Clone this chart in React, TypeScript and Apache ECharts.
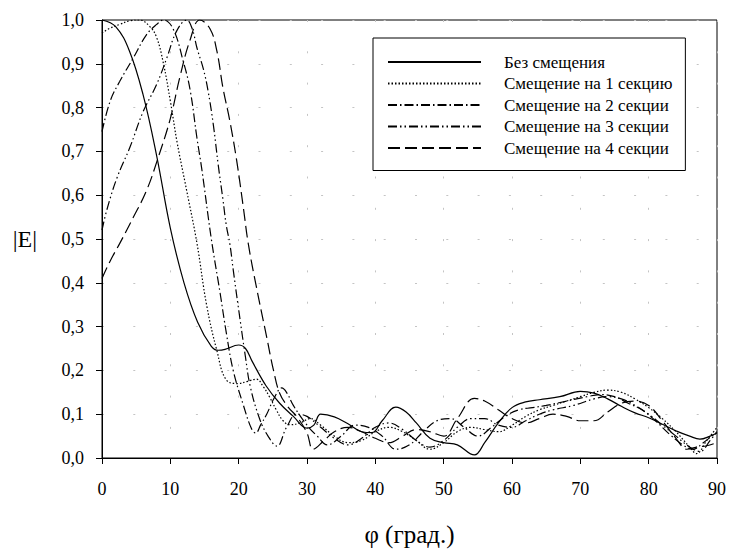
import React, { useEffect, useRef, useState } from "react";
import * as echarts from "echarts";

const seriesNames = [
  "Без смещения",
  "Смещение на 1 секцию",
  "Смещение на 2 секции",
  "Смещение на 3 секции",
  "Смещение на 4 секции",
];

const xTicks = [0, 10, 20, 30, 40, 50, 60, 70, 80, 90];

// Без смещения (solid)
const shift0: [number, number][] = [
  [0, 1.0], [2, 0.985], [4, 0.93], [6, 0.83], [8, 0.69], [10, 0.525], [12, 0.4],
  [14, 0.31], [16, 0.255], [17, 0.246], [18, 0.248], [20, 0.258], [21, 0.25],
  [22, 0.22], [24, 0.165], [26, 0.125], [28, 0.095], [30, 0.068], [31, 0.075],
  [32, 0.1], [34, 0.094], [36, 0.078], [38, 0.06], [39.5, 0.058], [41, 0.085],
  [43, 0.116], [44.5, 0.105], [46, 0.08], [48, 0.045], [50, 0.035], [52, 0.03],
  [54.5, 0.007], [56, 0.035], [58, 0.08], [60, 0.115], [62, 0.128], [64, 0.133],
  [67, 0.14], [70, 0.152], [72, 0.148], [74, 0.135], [76, 0.118], [78, 0.103],
  [80, 0.092], [82, 0.077], [84, 0.062], [86, 0.05], [87.5, 0.043], [89, 0.05], [90, 0.057],
];

// Смещение на 1 секцию (dense dots)
const shift1: [number, number][] = [
  [0, 0.97], [1, 0.98], [2.6, 0.99], [4, 0.998], [5.5, 1.0], [7, 0.985], [8, 0.96],
  [9, 0.9], [10, 0.815], [11, 0.72], [12.4, 0.61], [13.9, 0.49], [15.3, 0.35],
  [16.8, 0.246], [18.2, 0.178], [19.9, 0.17], [21.3, 0.175], [22.6, 0.18],
  [23.6, 0.163], [24.5, 0.14], [25.5, 0.11], [26.5, 0.085], [27.5, 0.076],
  [29, 0.08], [30.5, 0.09], [32, 0.075], [34, 0.05], [36, 0.035], [38, 0.04],
  [40, 0.06], [42, 0.07], [44, 0.06], [46, 0.04], [48, 0.02], [50, 0.035],
  [52, 0.06], [54, 0.07], [56, 0.065], [58, 0.06], [60, 0.075], [62, 0.095],
  [64, 0.11], [66, 0.12], [68, 0.13], [70, 0.14], [72, 0.15], [74, 0.155],
  [76, 0.15], [78, 0.135], [80, 0.115], [82, 0.09], [84, 0.06], [86, 0.025],
  [87, 0.01], [88.5, 0.04], [90, 0.07],
];

// Смещение на 2 секции (dash-dot)
const shift2: [number, number][] = [
  [0, 0.745], [1.2, 0.815], [2.6, 0.86], [4.6, 0.914], [6.5, 0.966], [8, 0.99],
  [9, 1.0], [10.4, 0.98], [11.9, 0.905], [12.9, 0.84], [13.9, 0.73], [14.6, 0.66],
  [16, 0.5], [17.3, 0.375], [18.2, 0.285], [19.2, 0.2], [20.7, 0.12], [21.9, 0.066],
  [22.5, 0.057], [23.2, 0.075], [24.1, 0.1], [25.3, 0.14], [26.3, 0.16], [27, 0.15],
  [28, 0.12], [30, 0.075], [31.5, 0.05], [33, 0.03], [35, 0.05], [37, 0.075],
  [39, 0.07], [41, 0.05], [43, 0.02], [45, 0.03], [47, 0.06], [49, 0.085],
  [51, 0.09], [53, 0.07], [55, 0.05], [57, 0.07], [59, 0.095], [61, 0.11],
  [63, 0.115], [65, 0.12], [68, 0.13], [71, 0.14], [73, 0.145], [75, 0.14],
  [77, 0.125], [79, 0.11], [81, 0.085], [83, 0.055], [85, 0.03], [86.5, 0.02],
  [88, 0.035], [90, 0.06],
];

// Смещение на 3 секции (dash-dot-dot)
const shift3: [number, number][] = [
  [0, 0.52], [0.7, 0.566], [2.2, 0.64], [4.1, 0.71], [6, 0.79], [8, 0.853],
  [9.5, 0.914], [10.9, 0.974], [12.4, 1.0], [13.2, 0.98], [13.9, 0.936], [14.8, 0.89],
  [15.5, 0.84], [16.3, 0.76], [17, 0.67], [17.7, 0.59], [18.2, 0.53], [18.7, 0.49],
  [19.2, 0.43], [19.9, 0.35], [21, 0.23], [21.7, 0.163], [23.1, 0.088], [24.3, 0.05],
  [25.6, 0.027], [27, 0.07], [28.5, 0.1], [30, 0.095], [32, 0.07], [34, 0.045],
  [36, 0.03], [38, 0.045], [40, 0.07], [42, 0.08], [44, 0.065], [46, 0.04],
  [48, 0.025], [50, 0.04], [52, 0.07], [54, 0.09], [56, 0.09], [58, 0.075],
  [60, 0.07], [62, 0.085], [64, 0.1], [66, 0.11], [69, 0.12], [72, 0.135],
  [74, 0.14], [76, 0.135], [78, 0.12], [80, 0.1], [82, 0.075], [84, 0.05],
  [86, 0.025], [87.5, 0.015], [89, 0.04], [90, 0.06],
];

// Смещение на 4 секции (long dash)
const shift4: [number, number][] = [
  [0, 0.41], [1.2, 0.45], [2.6, 0.49], [4.6, 0.55], [6.5, 0.61], [8.2, 0.685],
  [10, 0.775], [11.4, 0.87], [12.9, 0.955], [14.3, 1.0], [15.8, 0.98], [16.8, 0.93],
  [17.7, 0.845], [18.7, 0.77], [19.7, 0.68], [20.7, 0.57], [21.4, 0.49], [22.6, 0.39],
  [24.1, 0.276], [25.1, 0.2], [26, 0.148], [27.3, 0.115], [28.5, 0.095], [30, 0.057],
  [30.9, 0.02], [32.5, 0.04], [34, 0.06], [36, 0.07], [38, 0.06], [40, 0.045],
  [42, 0.035], [44, 0.05], [46, 0.065], [48, 0.06], [50, 0.05], [52, 0.09],
  [54.5, 0.136], [56, 0.13], [58, 0.11], [60, 0.09], [62, 0.08], [64, 0.09],
  [66, 0.1], [68, 0.095], [70, 0.085], [72, 0.085], [74, 0.105], [76, 0.125],
  [78, 0.13], [80, 0.12], [82, 0.085], [84, 0.045], [85.6, 0.02], [87, 0.025],
  [88.5, 0.028], [90, 0.035],
];

const seriesData = [shift0, shift1, shift2, shift3, shift4];
const dashes: (number[] | "solid")[] = [
  "solid",
  [1.5, 2],
  [9, 3, 1.5, 3],
  [9, 3, 1.5, 3, 1.5, 3],
  [12, 5],
];

const FONT = "Liberation Serif";

function buildOption() {
  const gridLine = { show: true, lineStyle: { color: "#c4c4c4", width: 1, type: [2, 29.3] as any } };
  return {
    animation: false,
    grid: {
      left: 102, right: 12, top: 20, bottom: 90,
      show: true, borderColor: "#000", borderWidth: 1,
    },
    legend: {
      orient: "vertical",
      left: 373,
      top: 38,
      padding: [15.5, 13, 14, 14],
      itemWidth: 93,
      itemHeight: 14,
      itemGap: 4.5,
      borderColor: "#000",
      borderWidth: 1,
      backgroundColor: "#fff",
      data: seriesNames,
      itemStyle: { opacity: 0 },
      textStyle: { fontFamily: FONT, fontSize: 17, color: "#000", padding: [0, 0, 0, 18] },
    },
    xAxis: {
      type: "value",
      min: 0,
      max: 90,
      interval: 10,
      name: "φ (град.)",
      nameLocation: "middle",
      nameGap: 64,
      nameTextStyle: { fontFamily: FONT, fontSize: 25, color: "#000" },
      axisLine: { show: true, onZero: false, lineStyle: { color: "#000", width: 1 } },
      axisTick: { show: true, length: 6, lineStyle: { color: "#000" } },
      axisLabel: {
        fontFamily: FONT, fontSize: 18, color: "#000", margin: 22,
        formatter: (v: number) => (xTicks.includes(v) ? String(v) : ""),
      },
      splitLine: gridLine,
    },
    yAxis: {
      type: "value",
      min: 0,
      max: 1,
      interval: 0.1,
      name: "|E|",
      nameLocation: "middle",
      nameRotate: 0,
      nameGap: 65,
      nameTextStyle: { fontFamily: FONT, fontSize: 24, color: "#000" },
      axisLine: { show: true, lineStyle: { color: "#000", width: 1 } },
      axisTick: { show: true, length: 6, lineStyle: { color: "#000" } },
      axisLabel: {
        fontFamily: FONT, fontSize: 18, color: "#000", margin: 18,
        formatter: (v: number) => v.toFixed(1).replace(".", ","),
      },
      splitLine: gridLine,
    },
    series: seriesData.map((d, i) => ({
      name: seriesNames[i],
      type: "line",
      data: d,
      smooth: 0.4,
      symbol: "none",
      clip: true,
      lineStyle: { color: "#000", width: 1.2, type: dashes[i] },
      itemStyle: { color: "#000", opacity: 0 },
    })),
  };
}

export default function App() {
  const ref = useRef<HTMLDivElement>(null);
  const [tick, setTick] = useState(0);
  useEffect(() => {
    if (!ref.current) return;
    const chart = echarts.init(ref.current, undefined, { renderer: "svg" });
    chart.setOption(buildOption() as any);
    let alive = true;
    const redraw = () => {
      if (!alive) return;
      chart.setOption(buildOption() as any, true);
      setTick((t) => t + 1);
    };
    const fonts = (document as any).fonts;
    if (fonts && fonts.load) {
      fonts.load(`18px "${FONT}"`).then(redraw, redraw);
    } else {
      setTimeout(redraw, 0);
    }
    return () => {
      alive = false;
      chart.dispose();
    };
  }, []);
  return (
    <div style={{ position: "absolute", left: 0, top: 0, width: 729, height: 552, background: "#fff" }} data-redraw={tick}>
      <div ref={ref} style={{ width: 729, height: 552 }} />
    </div>
  );
}
